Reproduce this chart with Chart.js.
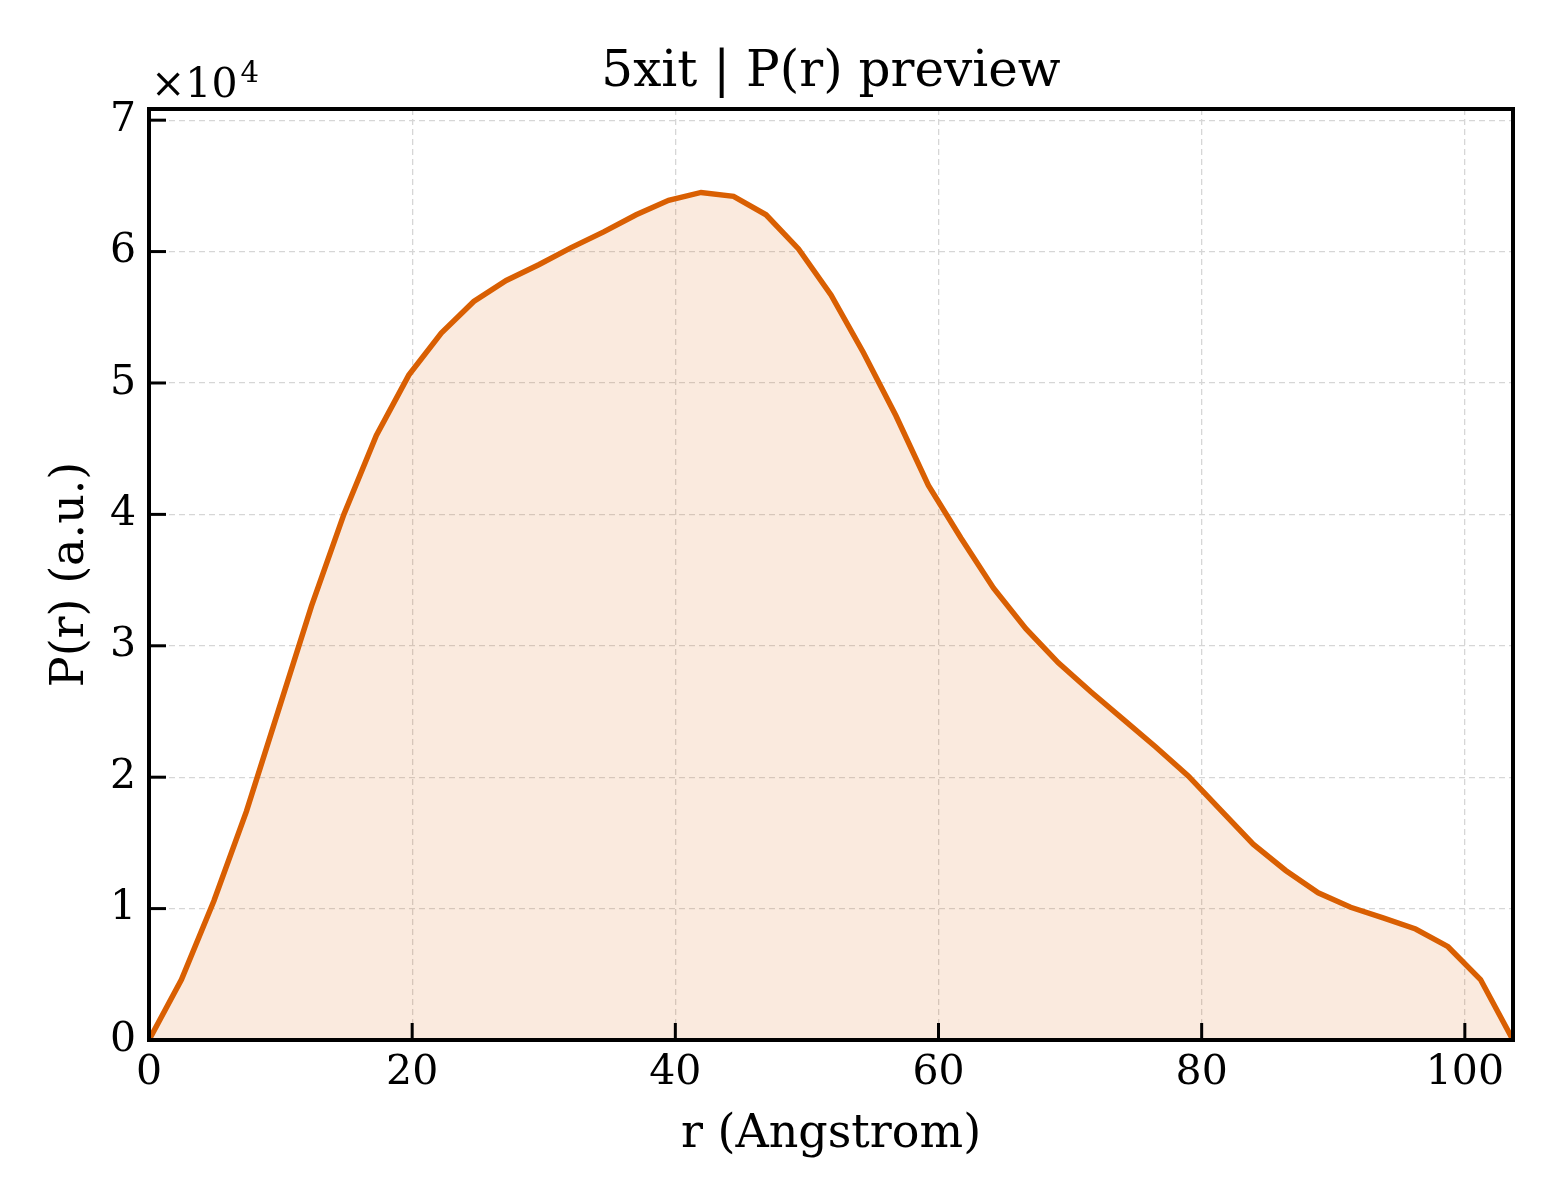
<!DOCTYPE html>
<html><head><meta charset="utf-8">
<script src="https://cdn.jsdelivr.net/npm/chart.js@4.4.1/dist/chart.umd.min.js"></script>
<style>html,body{margin:0;padding:0;background:#fff;} canvas{display:block;}</style>
</head><body>
<canvas id="c" width="1560" height="1200"></canvas>
<script>
// ---- data ----
const rValues = [0, 2.468, 4.936, 7.404, 9.872, 12.340, 14.809, 17.277, 19.745, 22.213,
  24.681, 27.149, 29.617, 32.085, 34.553, 37.021, 39.490, 41.958, 44.426, 46.894,
  49.362, 51.830, 54.298, 56.766, 59.234, 61.702, 64.171, 66.639, 69.107, 71.575,
  74.043, 76.511, 78.979, 81.447, 83.915, 86.383, 88.852, 91.320, 93.788, 96.256,
  98.724, 101.192, 103.660];
const prValues = [0, 4600, 10600, 17400, 25200, 33000, 40000, 46000, 50600, 53800,
  56200, 57800, 59000, 60300, 61500, 62800, 63900, 64500, 64200, 62800,
  60200, 56700, 52300, 47500, 42200, 38200, 34400, 31300, 28700, 26500,
  24400, 22300, 20100, 17500, 14900, 12900, 11200, 10100, 9300, 8450,
  7100, 4600, 0];
const xTickValues = [0, 20, 40, 60, 80, 100];
const yTickValues = [0, 10000, 20000, 30000, 40000, 50000, 60000, 70000];
const xMax = 103.66;
const yMax = 70850;
const yExponent = 4;
const titleText = '5xit | P(r) preview';
const xLabelText = 'r (Angstrom)';
const yLabelText = 'P(r) (a.u.)';

const FONT = '"DejaVu Serif", "Liberation Serif", serif';
const LINE_COLOR = '#d95f02';

const framePlugin = {
  id: 'frame',
  afterDatasetsDraw(chart) {
    const ctx = chart.ctx, a = chart.chartArea;
    const xs = chart.scales.x, ys = chart.scales.y;
    ctx.save();
    ctx.strokeStyle = '#000';
    ctx.lineWidth = 3;
    const tl = 17;
    xs.ticks.forEach(t => {
      const px = xs.getPixelForValue(t.value);
      ctx.beginPath(); ctx.moveTo(px, a.bottom); ctx.lineTo(px, a.bottom - tl); ctx.stroke();
    });
    ys.ticks.forEach(t => {
      const py = ys.getPixelForValue(t.value);
      ctx.beginPath(); ctx.moveTo(a.left, py); ctx.lineTo(a.left + tl, py); ctx.stroke();
    });
    ctx.lineWidth = 4;
    ctx.strokeRect(a.left, a.top, a.right - a.left, a.bottom - a.top);
    ctx.restore();
  },
  afterDraw(chart) {
    const ctx = chart.ctx, a = chart.chartArea;
    ctx.save();
    ctx.fillStyle = '#000';
    // title
    ctx.font = '50px ' + FONT;
    ctx.textAlign = 'center'; ctx.textBaseline = 'alphabetic';
    ctx.fillText(titleText, (a.left + a.right) / 2, 86);
    // x label
    ctx.font = '46px ' + FONT;
    ctx.fillText(xLabelText, (a.left + a.right) / 2, 1147);
    // y label
    ctx.save();
    ctx.translate(83, (a.top + a.bottom) / 2);
    ctx.rotate(-Math.PI / 2);
    ctx.textAlign = 'center'; ctx.textBaseline = 'alphabetic';
    ctx.fillText(yLabelText, 0, 0);
    ctx.restore();
    // offset text
    ctx.textAlign = 'left';
    ctx.font = '41px ' + FONT;
    const base = '\u00d710';
    ctx.fillText(base, 151, 97);
    const w = ctx.measureText(base).width;
    ctx.font = '29px ' + FONT;
    ctx.fillText(String(yExponent), 151 + w + 3, 82);
    ctx.restore();
  }
};

new Chart(document.getElementById('c'), {
  type: 'line',
  data: {
    datasets: [{
      data: rValues.map((r, i) => ({ x: r, y: prValues[i] })),
      borderColor: LINE_COLOR,
      borderWidth: 5.5,
      backgroundColor: 'rgba(217,95,2,0.13)',
      fill: 'origin',
      pointRadius: 0,
      tension: 0
    }]
  },
  options: {
    responsive: false,
    devicePixelRatio: 1,
    animation: false,
    layout: { padding: { top: 109, right: 47, left: 0, bottom: 0 } },
    plugins: { legend: { display: false }, tooltip: { enabled: false }, title: { display: false } },
    scales: {
      x: {
        type: 'linear', min: 0, max: xMax,
        afterBuildTicks: s => { s.ticks = xTickValues.map(v => ({ value: v })); },
        afterFit: s => { s.height = 160; },
        ticks: { font: { family: FONT, size: 41 }, color: '#000', padding: 9, maxRotation: 0,
                 callback: v => String(v) },
        grid: { color: '#d6d6d6', lineWidth: 1.3, drawTicks: false },
        border: { display: false, dash: [6, 4] }
      },
      y: {
        type: 'linear', min: 0, max: yMax,
        afterBuildTicks: s => { s.ticks = yTickValues.map(v => ({ value: v })); },
        afterFit: s => { s.width = 149; },
        ticks: { font: { family: FONT, size: 41 }, color: '#000', padding: 13,
                 callback: v => String(v / Math.pow(10, yExponent)) },
        grid: { color: '#d6d6d6', lineWidth: 1.3, drawTicks: false },
        border: { display: false, dash: [6, 4] }
      }
    }
  },
  plugins: [framePlugin]
});
</script>
</body></html>
